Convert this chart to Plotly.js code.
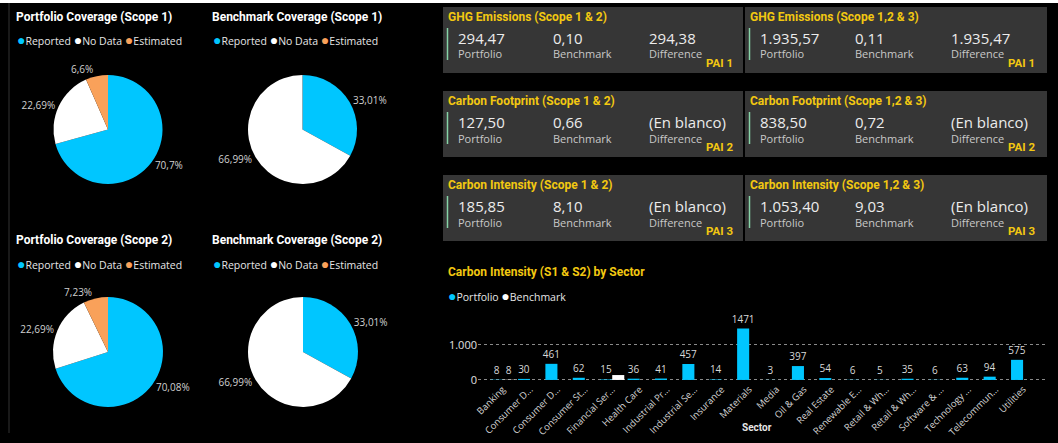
<!DOCTYPE html>
<html>
<head>
<meta charset="utf-8">
<script src="https://cdn.plot.ly/plotly-3.0.1.min.js"></script>
<style>
  html, body { margin: 0; padding: 0; background: #000; }
  #chart { width: 1058px; height: 443px; }
</style>
</head>
<body>
<div id="chart"></div>
<script>
'use strict';

var W = 1058, H = 443;

// coverage pies
var pieLabels = ['Reported', 'No Data', 'Estimated'];
var pieColors = ['#00c6ff', '#ffffff', '#f9a15a'];
var portfolioScope1 = [70.7, 22.69, 6.6];
var benchmarkScope1 = [33.01, 66.99, 0];
var portfolioScope2 = [70.08, 22.69, 7.23];
var benchmarkScope2 = [33.01, 66.99, 0];
var pieTitles = ['Portfolio Coverage (Scope 1)', 'Benchmark Coverage (Scope 1)',
  'Portfolio Coverage (Scope 2)', 'Benchmark Coverage (Scope 2)'];

// KPI cards
var kpiTitles = ['GHG Emissions (Scope 1 & 2)', 'GHG Emissions (Scope 1,2 & 3)',
  'Carbon Footprint (Scope 1 & 2)', 'Carbon Footprint (Scope 1,2 & 3)',
  'Carbon Intensity (Scope 1 & 2)', 'Carbon Intensity (Scope 1,2 & 3)'];
var kpiPortfolio = [294.47, 1935.57, 127.50, 838.50, 185.85, 1053.40];
var kpiBenchmark = [0.10, 0.11, 0.66, 0.72, 8.10, 9.03];
var kpiDifference = [294.38, 1935.47, null, null, null, null];
var kpiPai = ['PAI 1', 'PAI 1', 'PAI 2', 'PAI 2', 'PAI 3', 'PAI 3'];

// sector bars
var sectorLabels = ['Banking', 'Consumer D...', 'Consumer D...', 'Consumer St...', 'Financial Ser...',
  'Health Care', 'Industrial Pr...', 'Industrial Se...', 'Insurance', 'Materials', 'Media',
  'Oil & Gas', 'Real Estate', 'Renewable E...', 'Retail & Wh...', 'Retail & Wh...',
  'Software & ...', 'Technology ...', 'Telecommun...', 'Utilities'];
var portfolioIntensity = [8, 30, 461, 62, 15, 36, 41, 457, 14, 1471, 3, 397, 54, 6, 5, 35, 6, 63, 94, 575];
var benchmarkIntensity = [8, null, null, null, 140, null, null, null, null, null, null,
  null, null, null, null, null, null, null, null, null];
var benchmarkText = ['8', '', '', '', '', '', '', '', '', '', '', '', '', '', '', '', '', '', '', ''];

var yellow = '#f2c811';
var titleFont = 'Roboto, sans-serif';
var bodyFont = '"Open Sans", sans-serif';

function px(x) { return x / W; }
function py(y) { return 1 - y / H; }

function fmtNum(v) {
  if (v === null) return '(En blanco)';
  var parts = v.toFixed(2).split('.');
  return parts[0].replace(/\B(?=(\d{3})+(?!\d))/g, '.') + ',' + parts[1];
}

function fmtPct(v) {
  return v > 0 ? String(v).replace('.', ',') + '%' : '';
}

function label(x, y, text, size, color, opts) {
  opts = opts || {};
  return {
    xref: 'paper', yref: 'paper', x: px(x), y: py(y),
    xanchor: opts.anchor || 'left', yanchor: 'middle',
    showarrow: false, text: text,
    font: { family: opts.family || bodyFont, size: size, color: color, weight: opts.weight || 'normal' }
  };
}

function legendText(names, colors) {
  return names.map(function (n, i) {
    return '<span style="color:' + colors[i] + ';font-size:14px">●</span>' + n;
  }).join(' ');
}

var data = [];
var annotations = [];
var shapes = [];

// pies
var pieValues = [portfolioScope1, benchmarkScope1, portfolioScope2, benchmarkScope2];
var pieBoxes = [[53, 163, 75, 184], [248, 357, 75, 184], [53, 163, 297, 407], [248, 358, 297, 407]];
var pieTitlePos = [[14, 17], [210, 17], [14, 240], [210, 240]];

pieValues.forEach(function (vals, i) {
  var b = pieBoxes[i];
  data.push({
    type: 'pie',
    labels: pieLabels,
    values: vals,
    text: vals.map(fmtPct),
    textinfo: 'text',
    textposition: 'outside',
    outsidetextfont: { family: bodyFont, size: 10, color: '#d0d0d0' },
    marker: { colors: pieColors, line: { width: 0 } },
    sort: false,
    direction: 'clockwise',
    rotation: 0,
    showlegend: false,
    hoverinfo: 'label+percent',
    domain: { x: [px(b[0]), px(b[1])], y: [py(b[3]), py(b[2])] }
  });
  var t = pieTitlePos[i];
  annotations.push(label(t[0], t[1], pieTitles[i], 12, '#ffffff', { family: titleFont, weight: 'bold' }));
  annotations.push(label(t[0] + 1, t[1] + 23, legendText(pieLabels, pieColors), 10.5, '#e6e6e6'));
});

// KPI cards
var cardLefts = [443, 745];
var cardWidths = [300, 302];
var cardTops = [7, 91, 175];

kpiTitles.forEach(function (title, i) {
  var L = cardLefts[i % 2];
  var T = cardTops[Math.floor(i / 2)];
  shapes.push({
    type: 'rect', xref: 'paper', yref: 'paper', layer: 'below',
    x0: px(L), x1: px(L + cardWidths[i % 2]), y0: py(T + 66), y1: py(T),
    fillcolor: '#363636', line: { width: 0 }
  });
  shapes.push({
    type: 'line', xref: 'paper', yref: 'paper',
    x0: px(L + 4.5), x1: px(L + 4.5), y0: py(T + 53), y1: py(T + 21),
    line: { color: '#86d3a6', width: 1.5 }
  });
  annotations.push(label(L + 3, T + 10, title, 12, yellow, { family: titleFont, weight: 'bold' }));
  var vals = [fmtNum(kpiPortfolio[i]), fmtNum(kpiBenchmark[i]), fmtNum(kpiDifference[i])];
  var names = ['Portfolio', 'Benchmark', 'Difference'];
  [13, 108, 204].forEach(function (dx, j) {
    annotations.push(label(L + dx, T + 31, vals[j], 15, '#ececec'));
    annotations.push(label(L + dx, T + 47, names[j], 11, '#c8c8c8'));
  });
  annotations.push(label(L + 292, T + 56, kpiPai[i], 11.5, yellow, { family: titleFont, weight: 'bold', anchor: 'right' }));
});

// sector bar chart
var xs = sectorLabels.map(function (s, i) { return i; });

data.push({
  type: 'bar',
  name: 'Portfolio',
  x: xs,
  y: portfolioIntensity,
  marker: { color: '#00c6ff' },
  texttemplate: '%{y:.0f}',
  textposition: 'outside',
  constraintext: 'none',
  cliponaxis: false,
  textfont: { family: bodyFont, size: 10, color: '#d8d8d8' },
  showlegend: false
});

data.push({
  type: 'bar',
  name: 'Benchmark',
  x: xs,
  y: benchmarkIntensity,
  marker: { color: '#ffffff' },
  text: benchmarkText,
  texttemplate: '%{text}',
  textposition: 'outside',
  constraintext: 'none',
  cliponaxis: false,
  textfont: { family: bodyFont, size: 10, color: '#d8d8d8' },
  showlegend: false
});

annotations.push(label(446, 272, 'Carbon Intensity (S1 &amp; S2) by Sector', 12, yellow, { family: titleFont, weight: 'bold' }));
annotations.push(label(446, 295, legendText(['Portfolio', 'Benchmark'], ['#00c6ff', '#ffffff']), 10.5, '#e6e6e6'));
annotations.push(label(757, 427, 'Sector', 10, '#e6e6e6', { family: titleFont, weight: 'bold', anchor: 'center' }));

// top strip and left divider
shapes.push({
  type: 'rect', xref: 'paper', yref: 'paper',
  x0: 0, x1: 1, y0: py(3), y1: 1,
  fillcolor: '#ffffff', line: { width: 0 }
});
shapes.push({
  type: 'line', xref: 'paper', yref: 'paper',
  x0: px(9), x1: px(9), y0: py(433), y1: py(3),
  line: { color: '#333333', width: 1 }
});

var layout = {
  width: W,
  height: H,
  margin: { l: 0, r: 0, t: 0, b: 0 },
  paper_bgcolor: '#000000',
  plot_bgcolor: '#000000',
  separators: ',.',
  font: { family: bodyFont, color: '#e0e0e0' },
  barmode: 'group',
  bargap: 0.12,
  bargroupgap: 0,
  xaxis: {
    domain: [px(478), px(1045)],
    range: [-0.9, 19.8],
    tickmode: 'array',
    tickvals: xs,
    ticktext: sectorLabels,
    tickangle: -45,
    tickfont: { family: bodyFont, size: 9.5, color: '#d4d4d4' },
    showgrid: false,
    zeroline: false,
    showline: false,
    ticks: '',
    fixedrange: true
  },
  yaxis: {
    domain: [py(381), py(310)],
    range: [-30, 2000],
    tickmode: 'array',
    tickvals: [0, 1000],
    tickformat: ',d',
    tickfont: { family: bodyFont, size: 11, color: '#e0e0e0' },
    showgrid: true,
    gridcolor: '#8a8a8a',
    griddash: 'dot',
    gridwidth: 1,
    zeroline: false,
    showline: false,
    ticks: '',
    fixedrange: true
  },
  shapes: shapes,
  annotations: annotations
};

Plotly.newPlot('chart', data, layout, { displayModeBar: false, staticPlot: true });
</script>
</body>
</html>
